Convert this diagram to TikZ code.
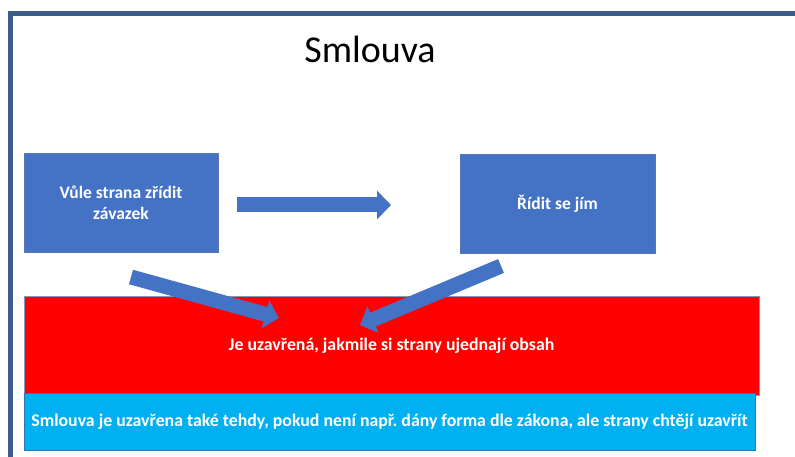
\documentclass[tikz,border=0pt]{standalone}
\usepackage{fontspec}
\setmainfont{Carlito}
\frenchspacing
\usetikzlibrary{arrows.meta}
\definecolor{frameblue}{HTML}{3A5D8C}
\definecolor{boxblue}{HTML}{4472C4}
\definecolor{boxedge}{HTML}{5678B8}
\definecolor{redfill}{HTML}{FF0000}
\definecolor{rededge}{HTML}{8C96B4}
\definecolor{cyanfill}{HTML}{00B0F0}
\definecolor{cyanedge}{HTML}{2E75B6}
\tikzset{
  bluebox/.style={fill=boxblue, draw=boxedge, line width=0.6pt, text=white,
    font=\bfseries\fontsize{17.5}{20.5}\selectfont, align=center,
    inner sep=0pt, minimum height=99pt},
  widebox/.style={text=white, font=\bfseries\fontsize{17.8}{20}\selectfont,
    align=center, inner sep=0pt, line width=0.6pt},
  blockarrow/.style={draw=boxblue, line width=15pt,
    -{Triangle[length=14pt,width=28pt]}}
}
\begin{document}
\begin{tikzpicture}[x=1pt,y=-1pt]
\useasboundingbox (0,0) rectangle (795,457);
\fill[white] (0,0) rectangle (795,457);
\draw[frameblue, line width=5pt] (10.5,459) -- (10.5,13.5) -- (797,13.5);
\node[font=\fontsize{38}{42}\selectfont, anchor=base] (title) at (370,63) {Smlouva};
\node[bluebox, minimum width=194pt] (will) at (121,202.5) {Vůle strana zřídit\\závazek};
\node[bluebox, minimum width=195pt] (follow) at (557.5,204) {Řídit se jím};
\node[widebox, fill=redfill, draw=rededge, minimum width=735pt, minimum height=99pt] (closed) at (391.5,345.5) {\raisebox{-2.5pt}{Je uzavřená, jakmile si strany ujednají obsah}};
\node[widebox, fill=cyanfill, draw=cyanedge, minimum width=731pt, minimum height=57pt] (also) at (389.5,421.5) {Smlouva je uzavřena také tehdy, pokud není např. dány forma dle zákona, ale strany chtějí uzavřít};
\coordinate (h1) at (237,205);
\coordinate (h2) at (391,205);
\coordinate (d1a) at (131,277);
\coordinate (d1b) at (279,318);
\coordinate (d2a) at (501,266);
\coordinate (d2b) at (360,325);
\draw[blockarrow] (h1) -- (h2);
\draw[blockarrow] (d1a) -- (d1b);
\draw[blockarrow] (d2a) -- (d2b);
\end{tikzpicture}
\end{document}
